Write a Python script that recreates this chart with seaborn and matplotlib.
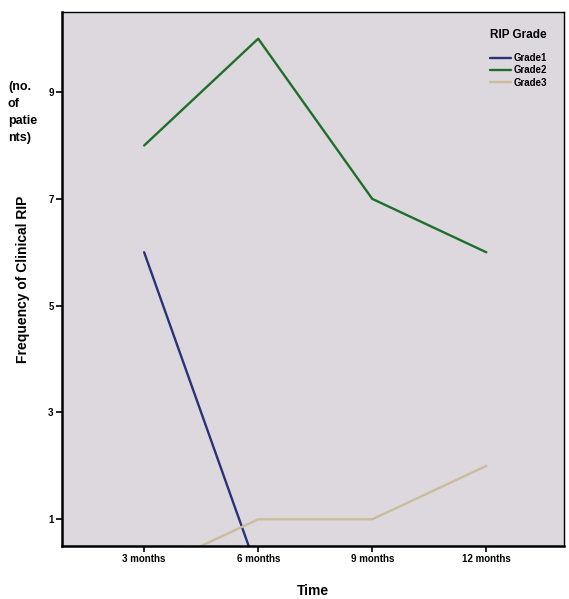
import seaborn as sns
import matplotlib.pyplot as plt
import pandas as pd

# time points and counts
time_labels = ["3 months", "6 months", "9 months", "12 months"]
grade1 = [6, 0, 0, 0]
grade2 = [8, 10, 7, 6]
grade3 = [0, 1, 1, 2]
grades = ["Grade1", "Grade2", "Grade3"]
colors = ["#2b3275", "#1f6e2a", "#cbbc9e"]

rows = []
for g, vals in zip(grades, [grade1, grade2, grade3]):
    for i, v in enumerate(vals):
        rows.append((i, v, g))
df = pd.DataFrame(rows, columns=["time", "count", "grade"])

sns.set_style("white")
plt.rcParams['font.family'] = ['Liberation Sans', 'DejaVu Sans']
plt.rcParams['font.weight'] = 'bold'
plt.rcParams['text.color'] = 'black'
plt.rcParams['axes.labelcolor'] = 'black'

fig = plt.figure(figsize=(5.69, 5.99), dpi=100)
ax = fig.add_axes([0.109, 0.0885, 0.882, 0.8915])
ax.set_facecolor("#ddd8de")

sns.lineplot(data=df, x="time", y="count", hue="grade", palette=colors,
             linewidth=1.7, ax=ax)

ax.set_xlim(-0.72, 3.68)
ax.set_ylim(0.5, 10.5)
ax.set_xticks(range(len(time_labels)))
ax.set_xticklabels(time_labels, fontsize=7, fontweight='bold')
ax.set_yticks([1, 3, 5, 7, 9])
ax.set_yticklabels(["1", "3", "5", "7", "9"], fontsize=7, fontweight='bold')
ax.tick_params(axis='both', direction='out', length=4, width=1.2, colors='black',
               bottom=True, left=True, pad=2)

for s in ax.spines.values():
    s.set_color("black")
    s.set_linewidth(1)
ax.spines['left'].set_linewidth(1.8)
ax.spines['bottom'].set_linewidth(1.8)

ax.set_xlabel("Time", fontsize=10, fontweight='bold', labelpad=14)
ax.set_ylabel("Frequency of Clinical RIP", fontsize=10, fontweight='bold', labelpad=13)
fig.text(0.014, 0.865, "(no.\nof\npatie\nnts)", fontsize=9, fontweight='bold',
         va='top', ha='left', linespacing=1.55)

leg = ax.legend(title="RIP Grade", loc="upper right", frameon=False, fontsize=7,
                title_fontsize=8.5, handlelength=2.2, labelspacing=0.25,
                handletextpad=0.3, borderaxespad=1.3)
leg.get_title().set_fontweight('bold')
leg._legend_box.sep = 9
for t in leg.get_texts():
    t.set_fontweight('bold')
    t.set_color('black')

fig.savefig("out.png", dpi=100)
